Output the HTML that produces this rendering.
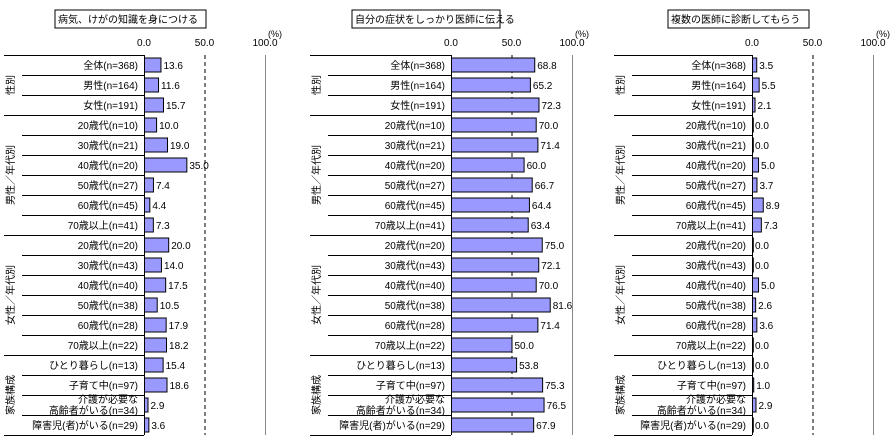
<!DOCTYPE html>
<html><head><meta charset="utf-8"><style>
body{margin:0;background:#fff;width:890px;height:441px;overflow:hidden}
svg{font-family:"Liberation Sans","Noto Sans CJK JP",sans-serif;font-size:10px}
</style></head><body>
<svg id="c" width="890" height="441"></svg>
<script>
const categories=["全体(n=368)","男性(n=164)","女性(n=191)","20歳代(n=10)","30歳代(n=21)","40歳代(n=20)","50歳代(n=27)","60歳代(n=45)","70歳以上(n=41)","20歳代(n=20)","30歳代(n=43)","40歳代(n=40)","50歳代(n=38)","60歳代(n=28)","70歳以上(n=22)","ひとり暮らし(n=13)","子育て中(n=97)","介護が必要な|高齢者がいる(n=34)","障害児(者)がいる(n=29)"];
const titles=["病気、けがの知識を身につける","自分の症状をしっかり医師に伝える","複数の医師に診断してもらう"];
const series1=[13.6,11.6,15.7,10.0,19.0,35.0,7.4,4.4,7.3,20.0,14.0,17.5,10.5,17.9,18.2,15.4,18.6,2.9,3.6];
const series2=[68.8,65.2,72.3,70.0,71.4,60.0,66.7,64.4,63.4,75.0,72.1,70.0,81.6,71.4,50.0,53.8,75.3,76.5,67.9];
const series3=[3.5,5.5,2.1,0.0,0.0,5.0,3.7,8.9,7.3,0.0,0.0,5.0,2.6,3.6,0.0,0.0,1.0,2.9,0.0];
const tickLabels=["0.0","50.0","100.0"];
const tickValues=[0,50,100];
const groups=[["性別",0,3],["男性／年代別",3,9],["女性／年代別",9,15],["家族構成",15,19]];
const svg=document.getElementById('c');const NS='http://www.w3.org/2000/svg';
function mk(t,a,p){const e=document.createElementNS(NS,t);for(const k in a)e.setAttribute(k,a[k]);(p||svg).appendChild(e);return e;}
const panels=[{x0:4,ax:144,tb:[55,206],data:series1},{x0:310,ax:451,tb:[352,500],data:series2},{x0:614,ax:752,tb:[668,809],data:series3}];
const TOP=55,rh=20,W=121;
panels.forEach((p,pi)=>{
  const g=mk('g',{});
  
  
  const xs=v=>p.ax+v/100*W;const ys=i=>TOP+i*rh;
  const tr=mk('rect',{x:p.tb[0],y:10,width:p.tb[1]-p.tb[0],height:18,fill:'#fff',stroke:'#000'},g);
  
  
  const tt=mk('text',{x:p.tb[0]+3,y:23},g);tt.textContent=titles[pi];
  
  
  tickValues.forEach((v,i)=>{const t=mk('text',{x:xs(v),y:46,'text-anchor':'middle'},g);t.textContent=tickLabels[i];
    
    });
  const pu=mk('text',{x:xs(100)+10,y:37,'text-anchor':'middle','font-size':'9'},g);pu.textContent='(%)';
  
  
  mk('line',{x1:xs(50)+0.5,y1:TOP,x2:xs(50)+0.5,y2:ys(19),stroke:'#000','stroke-dasharray':'4,3'},g);
  mk('line',{x1:xs(100)+0.5,y1:TOP,x2:xs(100)+0.5,y2:ys(19),stroke:'#888'},g);
  mk('line',{x1:p.ax+0.5,y1:TOP,x2:p.ax+0.5,y2:ys(19),stroke:'#000'},g);
  const starts=groups.map(q=>q[1]);
  for(let i=0;i<=19;i++){const full=i==19||starts.includes(i);
    mk('line',{x1:full?p.x0:p.x0+18,y1:ys(i)+0.5,x2:p.ax,y2:ys(i)+0.5,stroke:'#000'},g);}
  groups.forEach(q=>{const cy=(ys(q[1])+ys(q[2]))/2;const cx=p.x0+10;
    const t=mk('text',{x:cx,y:cy,'text-anchor':'middle','font-size':'10',transform:'rotate(-90 '+cx+' '+cy+')'},g);t.textContent=q[0];
    
    });
  categories.forEach((c,i)=>{const cy=ys(i)+rh/2;
    const parts=c.split('|');
    if(parts.length>1){const a=mk('text',{x:p.ax-6,y:cy-2,'text-anchor':'end'},g);a.textContent=parts[0];
      
      
      const b=mk('text',{x:p.ax-6,y:cy+9,'text-anchor':'end'},g);b.textContent=parts[1];
      
      }
    else{const a=mk('text',{x:p.ax-6,y:cy+4,'text-anchor':'end'},g);a.textContent=c;
      
      }
    const v=p.data[i];
    const r=mk('rect',{x:p.ax+0.5,y:cy-7,width:Math.max(xs(v)-p.ax,0.8),height:14,fill:'#9999ff',stroke:'#000','stroke-width':1},g);
    
    
    const vl=mk('text',{x:xs(v)+3,y:cy+4},g);vl.textContent=v.toFixed(1);
    
    
  });
});
</script>
</body></html>
